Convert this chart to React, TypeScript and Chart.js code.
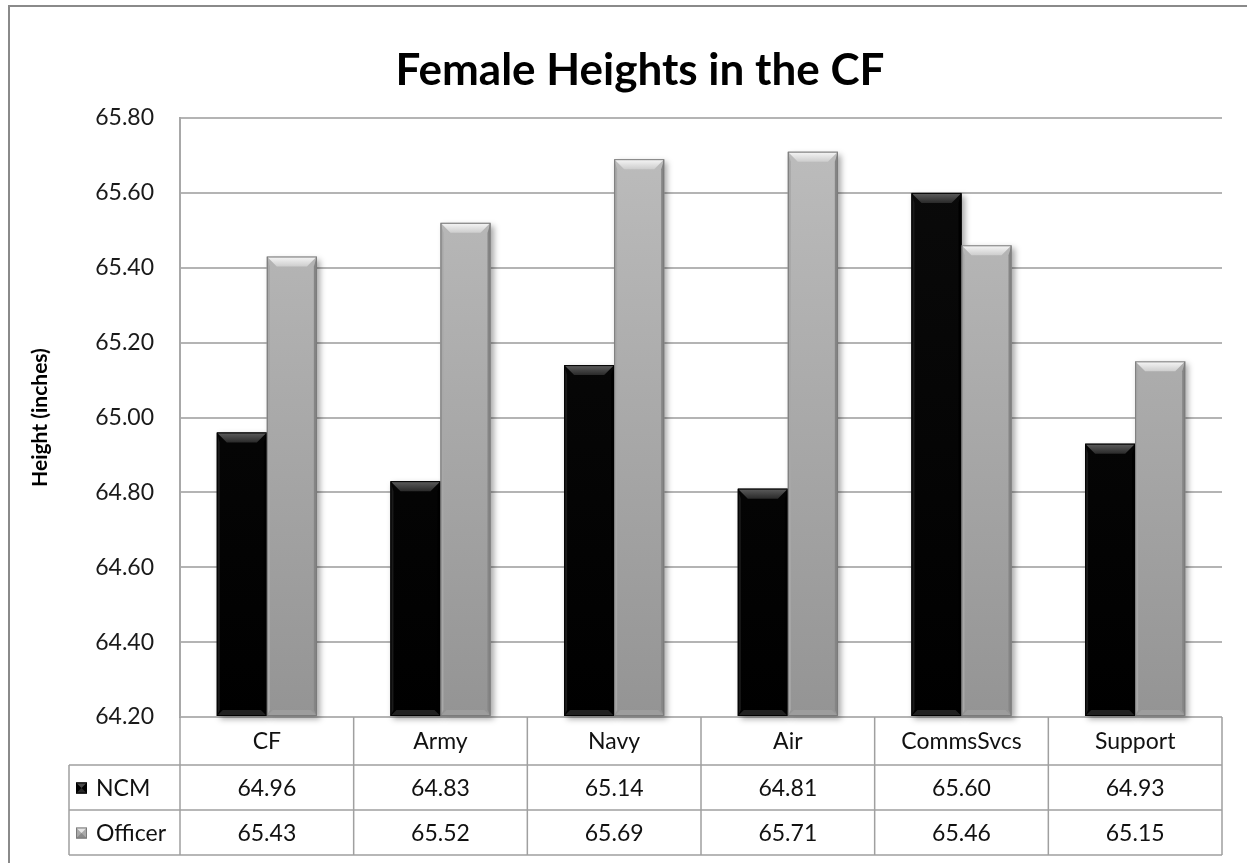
import React, { useEffect, useRef } from 'react';
import { Chart, registerables } from 'chart.js';

Chart.register(...registerables);

const categories = ['CF', 'Army', 'Navy', 'Air', 'CommsSvcs', 'Support'];
const ncmValues = [64.96, 64.83, 65.14, 64.81, 65.6, 64.93];
const officerValues = [65.43, 65.52, 65.69, 65.71, 65.46, 65.15];
const seriesNames = ['NCM', 'Officer'];
const yMin = 64.2;
const yMax = 65.8;
const yStep = 0.2;
const chartTitle = 'Female Heights in the CF';
const yAxisTitle = 'Height (inches)';

const FONT = 'Lato, "Open Sans", "DejaVu Sans", sans-serif';

const palettes = [
  {
    bodyTop: '#0b0b0b', bodyBottom: '#000000',
    bevelA: '#5e5e5e', bevelB: '#2a2a2a',
    sideL: '#1a1a1a', sideR: '#000000', bottom: '#202020', outline: '#000000',
  },
  {
    bodyTop: '#bebebe', bodyBottom: '#949494',
    bevelA: '#f7f7f7', bevelB: '#cdcdcd',
    sideL: '#a8a8a8', sideR: '#858585', bottom: '#9d9d9d', outline: '#7a7a7a',
  },
];

function barRects(chart: any) {
  const out: any[] = [];
  const area = chart.chartArea;
  chart.data.datasets.forEach((_ds: any, i: number) => {
    const meta = chart.getDatasetMeta(i);
    meta.data.forEach((el: any) => {
      const p = el.getProps(['x', 'y', 'base', 'width'], true);
      out.push({
        ds: i,
        L: p.x - p.width / 2,
        R: p.x + p.width / 2,
        T: Math.max(area.top, Math.min(p.y, p.base)),
        B: Math.min(area.bottom, Math.max(p.y, p.base)),
      });
    });
  });
  return out;
}

const bevelPlugin = {
  id: 'bevel',
  beforeDatasetsDraw(chart: any) {
    const ctx = chart.ctx;
    ctx.save();
    barRects(chart).forEach((r) => {
      ctx.shadowColor = 'rgba(0,0,0,0.35)';
      ctx.shadowBlur = 6;
      ctx.shadowOffsetX = 3;
      ctx.shadowOffsetY = 3;
      ctx.fillStyle = '#999';
      ctx.fillRect(r.L, r.T, r.R - r.L, r.B - r.T);
    });
    ctx.restore();
  },
  afterDatasetsDraw(chart: any) {
    const ctx = chart.ctx;
    ctx.save();
    barRects(chart).forEach((r) => {
      const pal = palettes[r.ds];
      const { L, R, T, B } = r;
      const inset = 10;
      const side = 3;
      const bot = 6;
      ctx.fillStyle = pal.sideL;
      ctx.beginPath();
      ctx.moveTo(L, T); ctx.lineTo(L + side, T + inset); ctx.lineTo(L + side, B - bot); ctx.lineTo(L, B);
      ctx.closePath(); ctx.fill();
      ctx.fillStyle = pal.sideR;
      ctx.beginPath();
      ctx.moveTo(R, T); ctx.lineTo(R - side, T + inset); ctx.lineTo(R - side, B - bot); ctx.lineTo(R, B);
      ctx.closePath(); ctx.fill();
      ctx.fillStyle = pal.bottom;
      ctx.beginPath();
      ctx.moveTo(L, B); ctx.lineTo(L + bot, B - bot); ctx.lineTo(R - bot, B - bot); ctx.lineTo(R, B);
      ctx.closePath(); ctx.fill();
      const g = ctx.createLinearGradient(0, T, 0, T + inset);
      g.addColorStop(0, pal.bevelA);
      g.addColorStop(1, pal.bevelB);
      ctx.fillStyle = g;
      ctx.beginPath();
      ctx.moveTo(L, T); ctx.lineTo(R, T); ctx.lineTo(R - inset, T + inset); ctx.lineTo(L + inset, T + inset);
      ctx.closePath(); ctx.fill();
      ctx.strokeStyle = pal.outline;
      ctx.lineWidth = 1;
      ctx.strokeRect(L + 0.5, T + 0.5, R - L - 1, B - T - 1);
    });
    ctx.restore();
  },
};

function drawSwatch(ctx: any, x: number, y: number, s: number, ds: number) {
  const pal = palettes[ds];
  ctx.save();
  ctx.fillStyle = ds === 0 ? '#000' : '#a9a9a9';
  ctx.fillRect(x, y, s, s);
  ctx.fillStyle = ds === 0 ? '#4a4a4a' : '#e6e6e6';
  ctx.beginPath();
  ctx.moveTo(x, y); ctx.lineTo(x + s, y); ctx.lineTo(x + s / 2, y + s / 2); ctx.closePath(); ctx.fill();
  ctx.fillStyle = ds === 0 ? '#2a2a2a' : '#8a8a8a';
  ctx.beginPath();
  ctx.moveTo(x, y + s); ctx.lineTo(x + s, y + s); ctx.lineTo(x + s / 2, y + s / 2); ctx.closePath(); ctx.fill();
  ctx.strokeStyle = pal.outline;
  ctx.lineWidth = 1;
  ctx.strokeRect(x + 0.5, y + 0.5, s - 1, s - 1);
  ctx.restore();
}

const titlePlugin = {
  id: 'centredTitle',
  afterDraw(chart: any) {
    const ctx = chart.ctx;
    ctx.save();
    ctx.font = `bold 44px ${FONT}`;
    ctx.fillStyle = '#000';
    ctx.textAlign = 'center';
    ctx.textBaseline = 'middle';
    ctx.fillText(chartTitle, 640, 71);
    ctx.restore();
  },
};

const tablePlugin = {
  id: 'dataTable',
  afterDraw(chart: any) {
    const ctx = chart.ctx;
    const area = chart.chartArea;
    const xs = chart.scales.x;
    const n = categories.length;
    const colW = (area.right - area.left) / n;
    const headerH = 48;
    const rowH = 45;
    const legendLeft = 69;
    const top = area.bottom;
    const hBottom = top + headerH;
    const rowsY = [hBottom, hBottom + rowH, hBottom + 2 * rowH];
    ctx.save();
    ctx.strokeStyle = '#a0a0a0';
    ctx.lineWidth = 1.5;
    ctx.beginPath();
    for (let i = 0; i <= n; i++) {
      const x = area.left + i * colW;
      ctx.moveTo(x, top);
      ctx.lineTo(x, rowsY[2]);
    }
    ctx.moveTo(legendLeft, hBottom);
    ctx.lineTo(legendLeft, rowsY[2]);
    rowsY.forEach((y) => {
      ctx.moveTo(legendLeft, y);
      ctx.lineTo(area.right, y);
    });
    ctx.stroke();

    ctx.font = `23px ${FONT}`;
    ctx.textAlign = 'center';
    ctx.textBaseline = 'middle';
    ctx.fillStyle = '#111';
    categories.forEach((c, i) => {
      ctx.fillText(c, xs.getPixelForValue(i), top + headerH / 2 + 1);
    });
    const series = [ncmValues, officerValues];
    series.forEach((vals, s) => {
      const cy = hBottom + rowH * s + rowH / 2 + 1;
      ctx.fillStyle = '#111';
      ctx.textAlign = 'center';
      vals.forEach((v, i) => {
        ctx.fillText(v.toFixed(2), xs.getPixelForValue(i), cy);
      });
      drawSwatch(ctx, 76, cy - 6, 11, s);
      ctx.fillStyle = '#111';
      ctx.textAlign = 'left';
      ctx.fillText(seriesNames[s], 96, cy);
    });
    ctx.restore();
  },
};

function makeGradient(chart: any, ds: number) {
  const area = chart.chartArea;
  const pal = palettes[ds];
  if (!area) return pal.bodyTop;
  const g = chart.ctx.createLinearGradient(0, area.top, 0, area.bottom);
  g.addColorStop(0, pal.bodyTop);
  g.addColorStop(1, pal.bodyBottom);
  return g;
}

export default function App() {
  const ref = useRef<HTMLCanvasElement | null>(null);
  useEffect(() => {
    if (!ref.current) return;
    const chart = new Chart(ref.current, {
      type: 'bar',
      data: {
        labels: categories,
        datasets: [
          {
            label: seriesNames[0],
            data: ncmValues,
            base: yMin,
            backgroundColor: (c: any) => makeGradient(c.chart, 0),
            borderWidth: 0,
            categoryPercentage: 0.576,
            barPercentage: 1,
          },
          {
            label: seriesNames[1],
            data: officerValues,
            base: yMin,
            backgroundColor: (c: any) => makeGradient(c.chart, 1),
            borderWidth: 0,
            categoryPercentage: 0.576,
            barPercentage: 1,
          },
        ],
      },
      options: {
        responsive: false,
        animation: false,
        layout: { padding: { left: 0, right: 25, top: 118, bottom: 146 } },
        plugins: {
          legend: { display: false },
          tooltip: { enabled: false },
          title: { display: false },
        },
        scales: {
          x: { display: false },
          y: {
            min: yMin,
            max: yMax,
            afterFit: (s: any) => { s.width = 180; },
            ticks: {
              stepSize: yStep,
              padding: 26,
              color: '#1a1a1a',
              font: { family: FONT, size: 23 },
              callback: (v: any) => Number(v).toFixed(2),
            },
            grid: { color: '#b4b4b4', lineWidth: 2, drawTicks: false },
            border: { display: true, color: '#a8a8a8', width: 2 },
            title: {
              display: true,
              text: yAxisTitle,
              color: '#000',
              font: { family: FONT, size: 21, weight: 'bold' },
              padding: { top: 27.4, bottom: 0 },
            },
          },
        },
      },
      plugins: [bevelPlugin, tablePlugin, titlePlugin],
    });
    return () => chart.destroy();
  }, []);

  return (
    <div style={{ position: 'fixed', left: 0, top: 0, width: 1247, height: 863, overflow: 'hidden', background: '#fff' }}>
      <div style={{ position: 'absolute', left: 8, top: 5, width: 1300, height: 900, border: '2px solid #8a8a8a', boxSizing: 'border-box' }} />
      <canvas ref={ref} width={1247} height={863} style={{ position: 'absolute', left: 0, top: 0, display: 'block' }} />
    </div>
  );
}
